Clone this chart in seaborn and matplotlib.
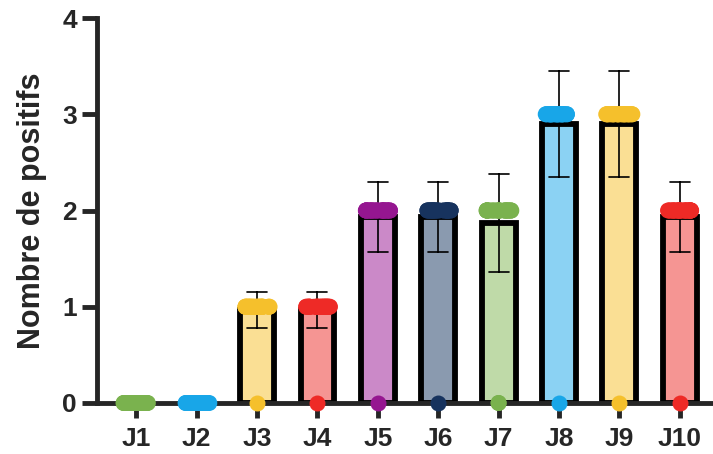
import numpy as np
import pandas as pd
import matplotlib
matplotlib.use("Agg")
import matplotlib.pyplot as plt
import seaborn as sns

# === Data ===
days = ["J1", "J2", "J3", "J4", "J5", "J6", "J7", "J8", "J9", "J10"]
positive_value = [0, 0, 1, 1, 2, 2, 2, 3, 3, 2]   # value of the positive animals
n_zero = [30, 30, 1, 1, 1, 1, 2, 1, 1, 1]         # animals still at 0
n_total = 30

dot_colors = ["#7AB24E", "#18A6E8", "#F5C02C", "#EE2A26", "#951690",
              "#17335E", "#7AB24E", "#18A6E8", "#F5C02C", "#EE2A26"]
bar_colors = ["#BFDAA8", "#8BD2F3", "#FADF94", "#F59593", "#CB89C8",
              "#8A9AAF", "#BFDAA8", "#8BD2F3", "#FADF94", "#F59593"]

# === Build long table: one row per animal ===
rows = []
for d, v, z in zip(days, positive_value, n_zero):
    for i in range(n_total):
        val = 0 if i < z else v
        rows.append({"day": d, "value": val, "minor": (i < z) and (z < n_total)})
df = pd.DataFrame(rows)

sns.set_style("ticks")
plt.rcParams["font.family"] = ["Liberation Sans", "DejaVu Sans"]
plt.rcParams["font.weight"] = "bold"

fig = plt.figure(figsize=(7.13, 4.54), dpi=100)
ax = fig.add_axes([97 / 713, 51 / 454, 616 / 713, 385 / 454])

sns.barplot(data=df, x="day", y="value", hue="day", order=days, hue_order=days,
            palette=bar_colors, saturation=1, errorbar="sd", capsize=0.33,
            width=0.56, edgecolor="black", linewidth=4.2,
            err_kws={"color": "black", "linewidth": 1.2, "zorder": 3},
            legend=False, ax=ax)

np.random.seed(3)
sns.stripplot(data=df[~df["minor"]], x="day", y="value", hue="day", order=days,
              hue_order=days, palette=dot_colors, jitter=0.22, size=11.5,
              linewidth=0, legend=False, clip_on=False, zorder=5, ax=ax)
sns.stripplot(data=df[df["minor"]], x="day", y="value", hue="day", order=days,
              hue_order=days, palette=dot_colors, jitter=False, size=11.5,
              linewidth=0, legend=False, clip_on=False, zorder=5, ax=ax)

ax.set_xlim(-0.65, 9.55)
ax.set_ylim(0, 4)
ax.set_yticks([0, 1, 2, 3, 4])
ax.set_xlabel("")
ax.set_ylabel("Nombre de positifs", fontsize=22, fontweight="bold", labelpad=11)
ax.tick_params(axis="both", width=3.5, length=11, labelsize=19, pad=3.5)
ax.tick_params(axis="x", pad=6)
for lab in ax.get_xticklabels() + ax.get_yticklabels():
    lab.set_fontweight("bold")
sns.despine(ax=ax)
ax.spines["left"].set_linewidth(3.5)
ax.spines["bottom"].set_linewidth(3.5)

fig.savefig("out.png", dpi=100)
